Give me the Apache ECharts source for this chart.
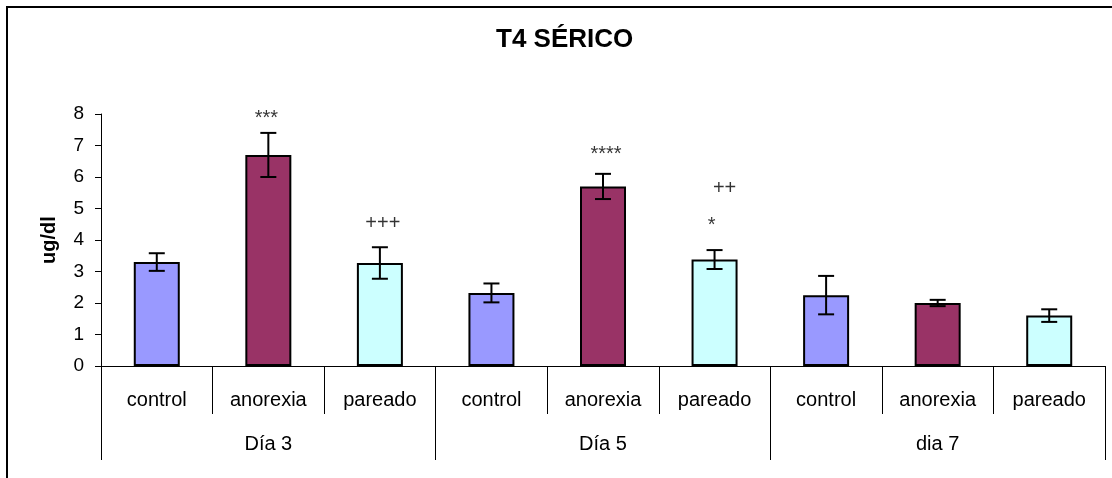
<!DOCTYPE html>
<html>
<head>
<meta charset="utf-8">
<script src="https://cdn.jsdelivr.net/npm/echarts@6/dist/echarts.min.js"></script>
<style>
  html, body { margin: 0; padding: 0; background: #fff; }
  #chart { width: 1112px; height: 478px; }
</style>
</head>
<body>
<div id="chart"></div>
<script>
// datos
const categories = ["control", "anorexia", "pareado", "control", "anorexia", "pareado", "control", "anorexia", "pareado"];
const groups = ["Día 3", "Día 5", "dia 7"];
const means = [3.3, 6.7, 3.27, 2.32, 5.7, 3.38, 2.25, 2.0, 1.6];
const errors = [0.28, 0.7, 0.5, 0.3, 0.4, 0.3, 0.61, 0.1, 0.2];
const barColors = ["#9999FF", "#993366", "#CCFFFF"];
// [categoría, valor, texto, desplazamiento x]
const marks = [
  [1, 7.85, "***", -2],
  [2, 4.54, "+++", 3],
  [4, 6.7, "****", 3],
  [5, 5.63, "++", 10],
  [5, 4.45, "*", -3]
];

const font = "Liberation Sans, Arial, sans-serif";
const chart = echarts.init(document.getElementById("chart"));

chart.setOption({
  animation: false,
  backgroundColor: "#fff",
  textStyle: { fontFamily: font, color: "#000" },
  title: {
    text: "T4 SÉRICO",
    left: 491,
    top: 22,
    textStyle: { fontFamily: font, fontSize: 26, fontWeight: "bold", color: "#000" }
  },
  graphic: [
    {
      type: "rect",
      shape: { x: 7, y: 7, width: 1130, height: 500 },
      style: { fill: null, stroke: "#000", lineWidth: 2 },
      silent: true
    }
  ],
  grid: { left: 101, right: 7, top: 114, bottom: 112 },
  xAxis: [
    {
      type: "category",
      data: categories,
      axisLine: { lineStyle: { color: "#000", width: 1 } },
      axisTick: { show: true, interval: 0, length: 48, lineStyle: { color: "#000" } },
      axisLabel: { interval: 0, margin: 24, fontSize: 20, color: "#000", fontFamily: font }
    },
    {
      type: "category",
      data: groups,
      position: "bottom",
      axisLine: { show: false },
      axisTick: { show: true, interval: 0, length: 94, lineStyle: { color: "#000" } },
      axisLabel: { interval: 0, margin: 68, fontSize: 20, color: "#000", fontFamily: font }
    }
  ],
  yAxis: {
    type: "value",
    min: 0,
    max: 8,
    interval: 1,
    name: "ug/dl",
    nameLocation: "middle",
    nameGap: 42,
    nameTextStyle: { fontFamily: font, fontSize: 20, fontWeight: "bold", color: "#000" },
    splitLine: { show: false },
    axisLine: { show: true, lineStyle: { color: "#000", width: 1 } },
    axisTick: { show: true, length: 6, lineStyle: { color: "#000" } },
    axisLabel: { margin: 17, fontSize: 19, color: "#000", fontFamily: font }
  },
  series: [
    {
      type: "bar",
      barWidth: 46,
      data: means.map((v, i) => ({
        value: v,
        itemStyle: { color: barColors[i % 3] }
      })),
      itemStyle: { borderColor: "#000", borderWidth: 2 }
    },
    {
      type: "custom",
      z: 5,
      data: means.map((v, i) => [i, v + errors[i], v - errors[i]]),
      renderItem: (params, api) => {
        const top = api.coord([api.value(0), api.value(1)]);
        const bot = api.coord([api.value(0), api.value(2)]);
        const hw = 8;
        const style = { stroke: "#000", lineWidth: 2 };
        return {
          type: "group",
          children: [
            { type: "line", shape: { x1: top[0], y1: top[1], x2: bot[0], y2: bot[1] }, style },
            { type: "line", shape: { x1: top[0] - hw, y1: top[1], x2: top[0] + hw, y2: top[1] }, style },
            { type: "line", shape: { x1: bot[0] - hw, y1: bot[1], x2: bot[0] + hw, y2: bot[1] }, style }
          ]
        };
      }
    },
    {
      type: "scatter",
      symbolSize: 0,
      clip: false,
      data: marks.map(m => ({
        value: [m[0], m[1]],
        label: {
          show: true,
          position: "inside",
          formatter: m[2],
          offset: [m[3], 0],
          fontSize: 20,
          color: "#000",
          fontFamily: font
        }
      }))
    }
  ]
});
</script>
</body>
</html>
